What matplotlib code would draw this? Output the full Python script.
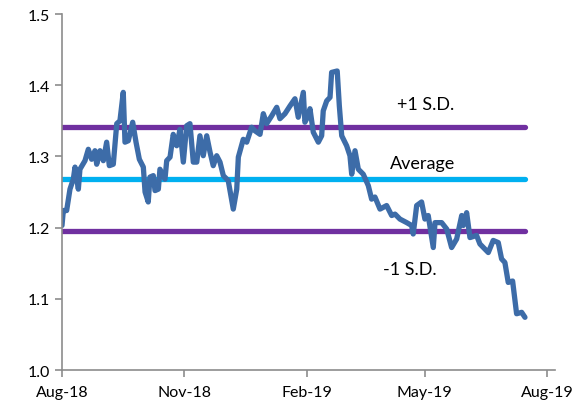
import pandas as pd
import numpy as np
import matplotlib.pyplot as plt
import matplotlib.dates as mdates

# days after 1 Aug 2018
days = [0, 1, 3.5, 6, 8.5, 9.8, 12.3, 13.5, 17.3, 19.8, 22.3, 24.8, 26.1, 28.6,
        31.1, 33.6, 35.6, 38.6, 41.2, 43.6, 46.1, 47.4, 49.9, 53.2, 55.7, 58.2,
        61.2, 62.5, 64.9, 66.2, 68.7, 70.0, 72.5, 73.7, 77.5, 78.8, 81.3, 83.7,
        86.3, 88.8, 91.3, 93.8, 96.3, 98.8, 101.4, 103.8, 106.3, 108.9, 111.4,
        113.8, 116.4, 118.9, 121.4, 125.1, 128.9, 131.5, 132.7, 136.4, 139,
        142.7, 145.2, 149, 151.5, 154, 157.8, 161.6, 164, 167.8, 171.6, 175.3,
        177.8, 181.6, 182.8, 185.3, 186.6, 189.1, 192.9, 195.4, 196.6, 199.2,
        201.7, 202.9, 207.1, 208.7, 210.5, 214.2, 216.7, 218, 220.5, 223,
        226.7, 230.5, 233, 235.5, 239.3, 244.3, 248.1, 250.6, 254.3, 259.4,
        263.1, 264.3, 266.9, 270.6, 273.1, 275.6, 279.4, 280.7, 285.7, 289.5,
        293.2, 297, 300.8, 302, 304.5, 307, 312, 314.5, 320.8, 324.5, 328.3,
        330.8, 333.3, 335.8, 339.1, 342.1, 345.9, 348.4]
values = [1.203, 1.224, 1.224, 1.254, 1.268, 1.285, 1.254, 1.282, 1.294, 1.310,
          1.296, 1.308, 1.289, 1.308, 1.294, 1.320, 1.287, 1.289, 1.346, 1.350,
          1.390, 1.320, 1.322, 1.348, 1.320, 1.296, 1.285, 1.250, 1.236, 1.271,
          1.273, 1.252, 1.254, 1.282, 1.268, 1.294, 1.299, 1.331, 1.315, 1.338,
          1.292, 1.343, 1.346, 1.292, 1.292, 1.329, 1.301, 1.329, 1.306, 1.287,
          1.301, 1.292, 1.273, 1.266, 1.226, 1.254, 1.299, 1.324, 1.320, 1.341,
          1.336, 1.331, 1.360, 1.346, 1.357, 1.369, 1.353, 1.360, 1.371, 1.381,
          1.355, 1.390, 1.348, 1.357, 1.367, 1.334, 1.320, 1.329, 1.364, 1.378,
          1.383, 1.418, 1.420, 1.371, 1.329, 1.315, 1.301, 1.275, 1.308, 1.282,
          1.275, 1.259, 1.240, 1.243, 1.226, 1.231, 1.217, 1.219, 1.212, 1.207,
          1.203, 1.191, 1.231, 1.236, 1.212, 1.217, 1.172, 1.207, 1.207, 1.198,
          1.172, 1.184, 1.217, 1.203, 1.221, 1.186, 1.189, 1.177, 1.165, 1.182,
          1.179, 1.156, 1.151, 1.123, 1.125, 1.079, 1.081, 1.074]

average = 1.268
plus_sd = 1.341
minus_sd = 1.195

start = pd.Timestamp('2018-08-01')
dates = start + pd.to_timedelta(days, unit='D')

plt.rcParams['font.family'] = ['Lato', 'DejaVu Sans']

fig = plt.figure(figsize=(5.8, 4.06), dpi=100)
ax = fig.add_axes([0.1069, 0.0862, 0.85, 0.8768])

span = [dates[0], dates[-1]]
ax.plot(span, [plus_sd, plus_sd], color='#7030A0', lw=3.8, solid_capstyle='round')
ax.plot(span, [average, average], color='#00B0F0', lw=3.8, solid_capstyle='round')
ax.plot(span, [minus_sd, minus_sd], color='#7030A0', lw=3.8, solid_capstyle='round')
ax.plot(dates, values, color='#3D6CA8', lw=3.8, solid_capstyle='round',
        solid_joinstyle='round')

ax.text(pd.Timestamp('2019-05-02'), 1.373, '+1 S.D.', ha='center', va='center', fontsize=13)
ax.text(pd.Timestamp('2019-04-29'), 1.291, 'Average', ha='center', va='center', fontsize=13)
ax.text(pd.Timestamp('2019-04-20'), 1.142, '-1 S.D.', ha='center', va='center', fontsize=13)

ax.set_ylim(1.0, 1.5)
ax.set_yticks(np.arange(1.0, 1.51, 0.1))
ax.yaxis.set_major_formatter(plt.FormatStrFormatter('%.1f'))
ax.set_xlim(start, pd.Timestamp('2019-08-07'))
ax.set_xticks(pd.to_datetime(['2018-08-01', '2018-11-01', '2019-02-01',
                              '2019-05-01', '2019-08-01']))
ax.xaxis.set_major_formatter(mdates.DateFormatter('%b-%y'))

for s in ['top', 'right']:
    ax.spines[s].set_visible(False)
for s in ['left', 'bottom']:
    ax.spines[s].set_color('#8C8C8C')
    ax.spines[s].set_linewidth(1.2)
ax.tick_params(axis='both', colors='#8C8C8C', length=5, width=1.2, labelsize=11.5,
               labelcolor='black')
ax.tick_params(axis='x', pad=6)

fig.savefig('out.png', dpi=100)
